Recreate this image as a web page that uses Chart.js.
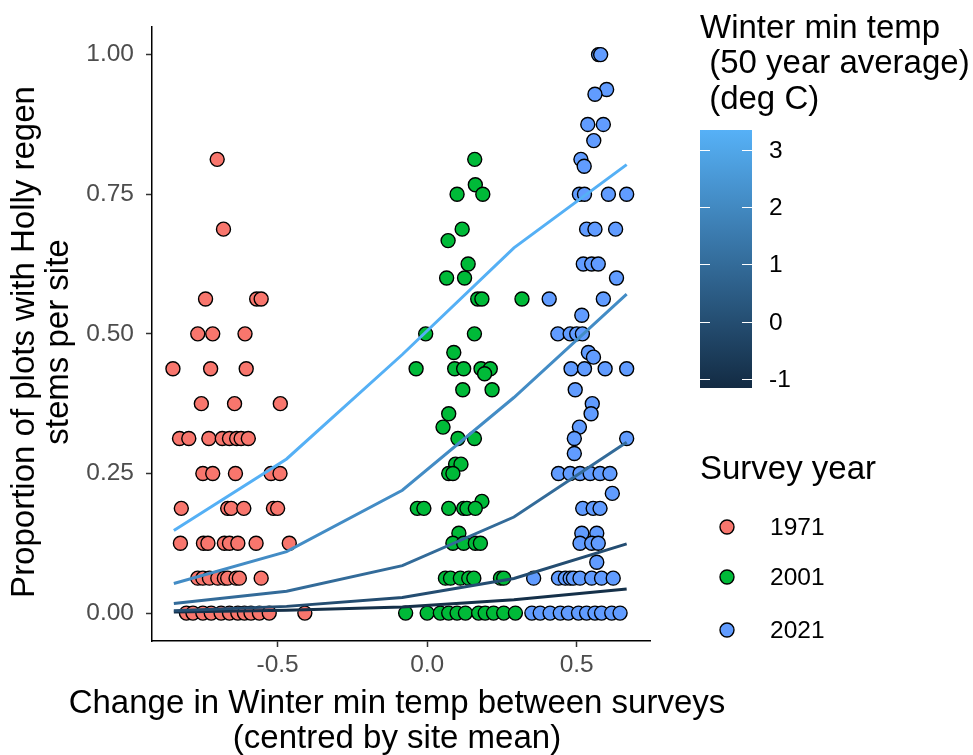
<!DOCTYPE html>
<html>
<head>
<meta charset="utf-8">
<script src="https://cdn.jsdelivr.net/npm/chart.js@4.4.1/dist/chart.umd.min.js"></script>
<style>
  html, body { margin: 0; padding: 0; background: #fff; }
  canvas { display: block; }
</style>
</head>
<body>
<canvas id="myChart" width="973" height="755"></canvas>
<script>
// survey 1971
var redX = [-0.702, -0.681, -0.741, -0.570, -0.555, -0.767, -0.717, -0.609, -0.850, -0.724, -0.605,
  -0.755, -0.644, -0.491, -0.828, -0.797, -0.730, -0.685, -0.661, -0.637, -0.622, -0.598,
  -0.750, -0.717, -0.641, -0.522, -0.492, -0.822, -0.667, -0.655, -0.613, -0.514, -0.500,
  -0.825, -0.748, -0.733, -0.678, -0.661, -0.633, -0.572, -0.461,
  -0.767, -0.750, -0.728, -0.700, -0.678, -0.667, -0.639, -0.628, -0.555,
  -0.805, -0.783, -0.750, -0.722, -0.689, -0.661, -0.633, -0.611, -0.589, -0.561, -0.528, -0.409];
var redY = [0.8125, 0.6875, 0.5625, 0.5625, 0.5625, 0.5, 0.5, 0.5, 0.4375, 0.4375, 0.4375,
  0.375, 0.375, 0.375, 0.3125, 0.3125, 0.3125, 0.3125, 0.3125, 0.3125, 0.3125, 0.3125,
  0.25, 0.25, 0.25, 0.25, 0.25, 0.1875, 0.1875, 0.1875, 0.1875, 0.1875, 0.1875,
  0.125, 0.125, 0.125, 0.125, 0.125, 0.125, 0.125, 0.125,
  0.0625, 0.0625, 0.0625, 0.0625, 0.0625, 0.0625, 0.0625, 0.0625, 0.0625,
  0, 0, 0, 0, 0, 0, 0, 0, 0, 0, 0, 0];

// survey 2001
var greenX = [0.159, 0.161, 0.100, 0.186, 0.117, 0.070, 0.137, 0.065, 0.125, 0.169, 0.183, 0.317,
  -0.005, 0.158, 0.089, -0.037, 0.092, 0.122, 0.180, 0.211, 0.192, 0.119, 0.217, 0.072, 0.053,
  0.103, 0.158, 0.095, 0.113, 0.072, 0.086, 0.183, -0.033, -0.011, 0.072, 0.122, 0.133, 0.161,
  0.106, 0.086, 0.122, 0.161, 0.178, 0.061, 0.078, 0.111, 0.139, 0.156, 0.245, 0.256,
  -0.072, 0.000, 0.044, 0.072, 0.100, 0.128, 0.172, 0.194, 0.222, 0.256, 0.295];
var greenY = [0.8125, 0.767, 0.75, 0.75, 0.6875, 0.667, 0.625, 0.6, 0.6, 0.5625, 0.5625, 0.5625,
  0.5, 0.5, 0.4667, 0.4375, 0.4375, 0.4375, 0.4375, 0.4375, 0.4286, 0.4, 0.4, 0.357, 0.333,
  0.3125, 0.3125, 0.2667, 0.2667, 0.25, 0.25, 0.2, 0.1875, 0.1875, 0.1875, 0.1875, 0.1875, 0.1875,
  0.1429, 0.125, 0.125, 0.125, 0.125, 0.0625, 0.0625, 0.0625, 0.0625, 0.0625, 0.0625, 0.0625,
  0, 0, 0, 0, 0, 0, 0, 0, 0, 0, 0];

// survey 2021
var blueX = [0.573, 0.580, 0.600, 0.561, 0.537, 0.589, 0.557, 0.514, 0.525,
  0.509, 0.526, 0.606, 0.667, 0.533, 0.561, 0.630, 0.522, 0.550, 0.572, 0.633,
  0.408, 0.589, 0.517, 0.437, 0.478, 0.500, 0.519, 0.539, 0.556,
  0.481, 0.526, 0.595, 0.667, 0.495, 0.552, 0.548, 0.509, 0.492, 0.667, 0.492,
  0.439, 0.478, 0.511, 0.545, 0.578, 0.611, 0.619, 0.520, 0.555, 0.578,
  0.517, 0.567, 0.511, 0.550, 0.572, 0.567,
  0.356, 0.439, 0.462, 0.478, 0.489, 0.511, 0.550, 0.583, 0.622,
  0.350, 0.378, 0.411, 0.445, 0.472, 0.506, 0.533, 0.561, 0.583, 0.617, 0.645];
var blueY = [1, 1, 0.9375, 0.929, 0.875, 0.875, 0.846, 0.8125, 0.8,
  0.75, 0.75, 0.75, 0.75, 0.6875, 0.6875, 0.6875, 0.625, 0.625, 0.625, 0.6,
  0.5625, 0.5625, 0.5333, 0.5, 0.5, 0.5, 0.5, 0.4667, 0.4583,
  0.4375, 0.4375, 0.4375, 0.4375, 0.4, 0.375, 0.357, 0.333, 0.3125, 0.3125, 0.2857,
  0.25, 0.25, 0.25, 0.25, 0.25, 0.25, 0.2143, 0.1875, 0.1875, 0.1875,
  0.1429, 0.1429, 0.125, 0.125, 0.125, 0.0909,
  0.0625, 0.0625, 0.0625, 0.0625, 0.0625, 0.0625, 0.0625, 0.0625, 0.0625,
  0, 0, 0, 0, 0, 0, 0, 0, 0, 0, 0];

// fitted lines, one per winter min temp
var lineX = [-0.847, -0.47, -0.083, 0.29, 0.667];
var lineTemps = [3.3, 2.1, 1.0, 0.0, -1.0];
var fit1 = [0.148, 0.276, 0.463, 0.654, 0.803];
var fit2 = [0.053, 0.110, 0.220, 0.386, 0.571];
var fit3 = [0.017, 0.039, 0.085, 0.172, 0.306];
var fit4 = [0.004, 0.012, 0.028, 0.062, 0.124];
var fit5 = [0.002, 0.005, 0.011, 0.024, 0.043];

var xTicks = [-0.5, 0, 0.5];
var yTicks = [0, 0.25, 0.5, 0.75, 1];
var barTicks = [-1, 0, 1, 2, 3];
var years = ['1971', '2001', '2021'];

var yearColours = ['#F8766D', '#00BA38', '#619CFF'];
var lowCol = [19, 43, 67], highCol = [86, 177, 247];
var barMin = -1.16, barMax = 3.35;

function tempColour(t) {
  var f = (t - barMin) / (barMax - barMin);
  var c = lowCol.map(function(v, i) { return Math.round(v + (highCol[i] - v) * f); });
  return 'rgb(' + c.join(',') + ')';
}

function pts(xs, ys) {
  return xs.map(function(x, i) { return {x: x, y: ys[i]}; });
}

var fits = [fit1, fit2, fit3, fit4, fit5];
var datasets = [];
fits.forEach(function(f, i) {
  datasets.push({
    type: 'line', data: pts(lineX, f), showLine: true, fill: false,
    borderColor: tempColour(lineTemps[i]), borderWidth: 3, pointRadius: 0,
    tension: 0, order: 0
  });
});
[[redX, redY], [greenX, greenY], [blueX, blueY]].forEach(function(s, i) {
  datasets.push({
    data: pts(s[0], s[1]), backgroundColor: yearColours[i], borderColor: '#000',
    borderWidth: 1.4, pointRadius: 7, order: 1
  });
});

var FONT = 'Liberation Sans, Arial, sans-serif';
var tickFont = {family: FONT, size: 24.5};

var extras = {
  id: 'extras',
  afterDraw: function(chart) {
    var c = chart.ctx;
    c.save();
    c.fillStyle = '#000';
    c.font = '33px ' + FONT;
    c.textAlign = 'center';
    c.textBaseline = 'middle';
    c.fillText('Change in Winter min temp between surveys', 397, 704);
    c.fillText('(centred by site mean)', 397, 739);

    c.save();
    c.translate(25, 342);
    c.rotate(-Math.PI / 2);
    c.fillText('Proportion of plots with Holly regen', 0, 0);
    c.fillText('stems per site', 0, 34);
    c.restore();

    // colourbar legend
    c.textAlign = 'left';
    c.fillText('Winter min temp', 700, 29);
    c.fillText(' (50 year average)', 700, 64);
    c.fillText(' (deg C)', 700, 100);

    var bx = 700, bw = 52, bTop = 130, bBot = 388;
    var g = c.createLinearGradient(0, bBot, 0, bTop);
    g.addColorStop(0, 'rgb(' + lowCol.join(',') + ')');
    g.addColorStop(1, 'rgb(' + highCol.join(',') + ')');
    c.fillStyle = g;
    c.fillRect(bx, bTop, bw, bBot - bTop);
    c.strokeStyle = '#fff';
    c.lineWidth = 1;
    c.font = '24.5px ' + FONT;
    c.fillStyle = '#000';
    barTicks.forEach(function(t) {
      var y = Math.round(bBot - (t - barMin) / (barMax - barMin) * (bBot - bTop)) + 0.5;
      c.beginPath();
      c.moveTo(bx, y); c.lineTo(bx + 10, y);
      c.moveTo(bx + bw - 10, y); c.lineTo(bx + bw, y);
      c.stroke();
      c.fillText(String(t), 769, y + 1);
    });

    // survey year legend
    c.font = '33px ' + FONT;
    c.fillText('Survey year', 700, 470);
    c.font = '24.5px ' + FONT;
    var ly = [527, 577, 630];
    years.forEach(function(yr, i) {
      c.beginPath();
      c.arc(727, ly[i], 7, 0, Math.PI * 2);
      c.fillStyle = yearColours[i];
      c.fill();
      c.lineWidth = 1.4;
      c.strokeStyle = '#000';
      c.stroke();
      c.fillStyle = '#000';
      c.fillText(yr, 770, ly[i] + 1);
    });
    c.restore();
  }
};

var ctx = document.getElementById('myChart').getContext('2d');
var myChart = new Chart(ctx, {
  type: 'scatter',
  data: { datasets: datasets },
  options: {
    responsive: false,
    animation: false,
    devicePixelRatio: 1,
    layout: { padding: { top: 25, right: 323, left: 0, bottom: 0 } },
    plugins: { legend: { display: false }, tooltip: { enabled: false } },
    scales: {
      x: {
        type: 'linear', min: -0.92, max: 0.745,
        afterBuildTicks: function(s) { s.ticks = xTicks.map(function(v) { return {value: v}; }); },
        afterFit: function(s) { s.height = 114; },
        ticks: { font: tickFont, color: '#4D4D4D', padding: 4, callback: function(v) { return v.toFixed(1); } },
        grid: { drawOnChartArea: false, tickLength: 6, tickWidth: 1.5, color: '#333' },
        border: { color: '#000', width: 1.5 }
      },
      y: {
        type: 'linear', min: -0.05, max: 1.05,
        afterBuildTicks: function(s) { s.ticks = yTicks.map(function(v) { return {value: v}; }); },
        afterFit: function(s) { s.width = 152; },
        ticks: { font: tickFont, color: '#4D4D4D', padding: 12, callback: function(v) { return v.toFixed(2); } },
        grid: { drawOnChartArea: false, tickLength: 6, tickWidth: 1.5, color: '#333' },
        border: { color: '#000', width: 1.5 }
      }
    }
  },
  plugins: [extras]
});
</script>
</body>
</html>
